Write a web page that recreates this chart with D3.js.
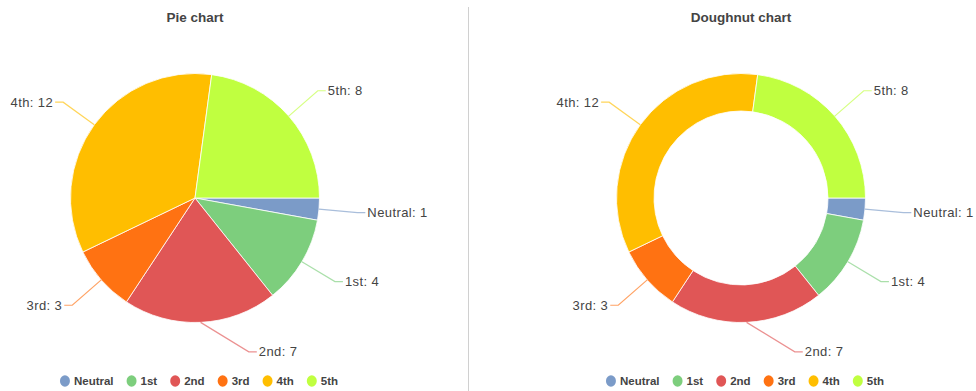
<!DOCTYPE html>
<html>
<head>
<meta charset="utf-8">
<script src="https://cdn.jsdelivr.net/npm/d3@7"></script>
<style>
  html, body { margin: 0; padding: 0; background: #fff; }
  svg { display: block; }
</style>
</head>
<body>
<svg id="chart" width="976" height="391"></svg>
<script>
// Rating categories and their counts
const categories = ["Neutral", "1st", "2nd", "3rd", "4th", "5th"];
const counts = [1, 4, 7, 3, 12, 8];
const colors = ["#7b9bc8", "#7dce7d", "#e05656", "#ff7212", "#ffbe00", "#c0ff40"];
const titles = ["Pie chart", "Doughnut chart"];

const W = 976, H = 391;
const svg = d3.select("#chart");
const data = categories.map((c, i) => ({ name: c, value: counts[i], color: colors[i] }));

const outerR = 124.5;
const labelR = 163;
const minSide = 0.33; // keeps label elbows away from the vertical axis

const pie = d3.pie()
  .value(d => d.value)
  .sort(null)
  .startAngle(Math.PI / 2)
  .endAngle(Math.PI / 2 + 2 * Math.PI);

const colorScale = d3.scaleOrdinal().domain(categories).range(colors);

// divider between the two panels
svg.append("line")
  .attr("x1", 468.5).attr("x2", 468.5)
  .attr("y1", 7).attr("y2", H)
  .attr("stroke", "#d0d0d0").attr("stroke-width", 1);

function drawPanel(cx, cy, innerR, title) {
  const g = svg.append("g");

  g.append("text")
    .attr("x", cx).attr("y", 22)
    .attr("text-anchor", "middle")
    .attr("font-family", "Liberation Sans, Arial, sans-serif")
    .attr("font-weight", "bold")
    .attr("font-size", 13.5)
    .attr("fill", "#444")
    .text(title);

  const arc = d3.arc().innerRadius(innerR).outerRadius(outerR);
  const arcs = pie(data);

  const plot = g.append("g").attr("transform", `translate(${cx},${cy})`);
  plot.selectAll("path.slice")
    .data(arcs)
    .join("path")
    .attr("class", "slice")
    .attr("d", arc)
    .attr("fill", d => colorScale(d.data.name))
    .attr("stroke", "#fff")
    .attr("stroke-width", 0.8);

  // leader lines and labels
  arcs.forEach(a => {
    let mid = (a.startAngle + a.endAngle) / 2;
    const sx = Math.sin(mid) * outerR, sy = -Math.cos(mid) * outerR;
    let ex = Math.sin(mid) * labelR, ey = -Math.cos(mid) * labelR;
    const right = Math.sin(mid) >= 0;
    if (Math.abs(ex) < labelR * minSide) {
      ex = (right ? 1 : -1) * labelR * minSide;
      ey = Math.sign(ey) * Math.sqrt(labelR * labelR - ex * ex);
    }
    const hx = ex + (right ? 8 : -8);
    const lc = d3.color(colorScale(a.data.name)).copy({ opacity: 0.65 });
    plot.append("polyline")
      .attr("points", [[sx, sy], [ex, ey], [hx, ey]].map(p => p.join(",")).join(" "))
      .attr("fill", "none")
      .attr("stroke", lc)
      .attr("stroke-width", 1.2);
    plot.append("text")
      .attr("x", hx + (right ? 2 : -2))
      .attr("y", ey)
      .attr("dy", "0.35em")
      .attr("text-anchor", right ? "start" : "end")
      .attr("font-family", "Liberation Sans, Arial, sans-serif")
      .attr("font-size", 13)
      .attr("letter-spacing", 0.4)
      .attr("fill", "#444")
      .text(`${a.data.name}: ${a.data.value}`);
  });

  // legend
  const legend = g.append("g");
  const gap = 13;
  let x = 0;
  categories.forEach(c => {
    const item = legend.append("g").attr("transform", `translate(${x},0)`);
    item.append("ellipse")
      .attr("cx", 5).attr("cy", 0).attr("rx", 5).attr("ry", 5.8)
      .attr("fill", colorScale(c));
    const t = item.append("text")
      .attr("x", 14).attr("y", 0).attr("dy", "0.35em")
      .attr("font-family", "Liberation Sans, Arial, sans-serif")
      .attr("font-weight", "bold")
      .attr("font-size", 11.5)
      .attr("fill", "#444")
      .text(c);
    x += 14 + t.node().getComputedTextLength() + gap;
  });
  const total = x - gap;
  legend.attr("transform", `translate(${cx + 4 - total / 2},381)`);
}

drawPanel(195, 198, 0, titles[0]);
drawPanel(741, 198, 87, titles[1]);
</script>
</body>
</html>
